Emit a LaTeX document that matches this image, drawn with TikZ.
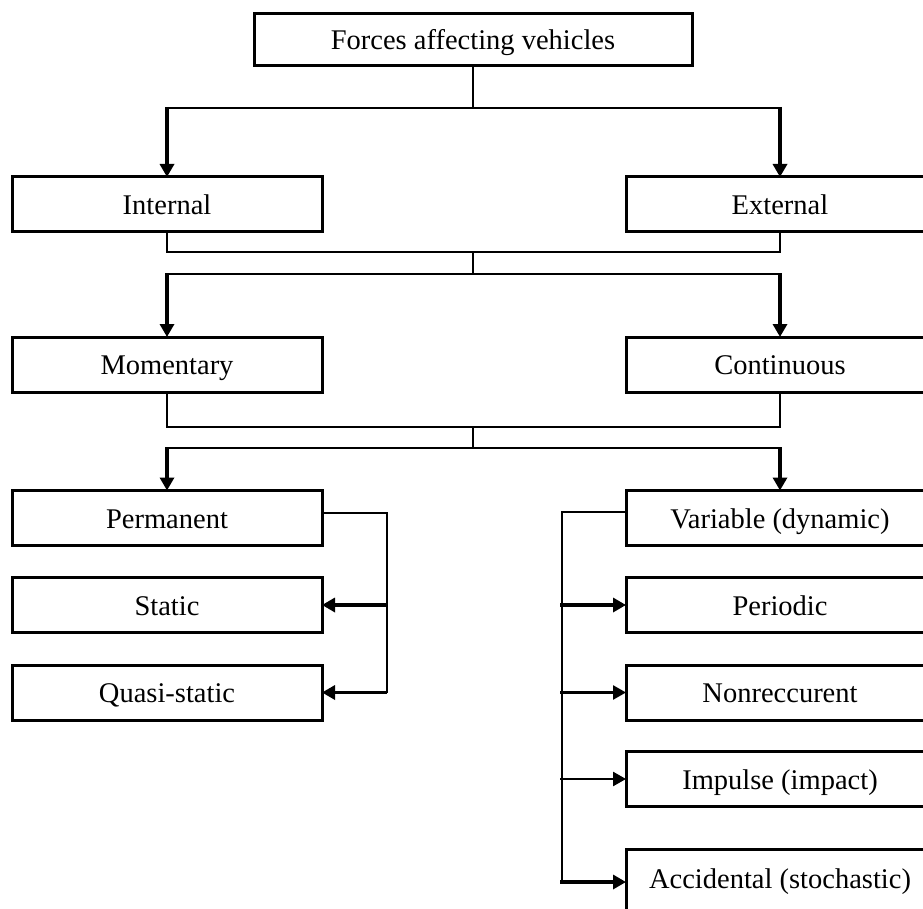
\documentclass[tikz,border=0pt]{standalone}
\usepackage{fontspec}
\setmainfont{Liberation Serif}
\usetikzlibrary{arrows.meta}
\begin{document}
\begin{tikzpicture}[x=1pt,y=-1pt,
  box/.style={draw, line width=3pt, minimum width=310pt, minimum height=55pt, inner sep=0pt, outer sep=0pt,
              text height=26pt, text depth=6pt, font=\fontsize{28.5}{32}\selectfont},
  rbox/.style={box, minimum width=308pt},
  thinline/.style={line width=1.1pt},
  thickarrow/.style={line width=3.8pt, -{Triangle[length=13pt,width=14pt]}},
  midarrow/.style={line width=2.6pt, -{Triangle[length=13pt,width=14pt]}}
]
\useasboundingbox (0,0) rectangle (923,909);
\clip (0,0) rectangle (923,909);
\fill[white] (0,0) rectangle (923,909);
% nodes
\node[box, minimum width=438pt, minimum height=52pt] (top) at (473,40) {Forces affecting vehicles};
\node[box] (int) at (167,204.5) {Internal};
\node[rbox] (ext) at (780,204.5) {External};
\node[box] (mom) at (167,364.5) {Momentary};
\node[rbox] (cont) at (780,364.5) {Continuous};
\node[box] (perm) at (167,518) {Permanent};
\node[rbox] (var) at (780,518) {Variable (dynamic)};
\node[box] (stat) at (167,605) {Static};
\node[box] (qs) at (167,692.5) {Quasi-static};
\node[rbox] (per) at (780,605) {Periodic};
\node[rbox] (non) at (780,692.5) {Nonreccurent};
\node[rbox] (imp) at (780,779) {Impulse (impact)};
\node[rbox, minimum height=70pt, text depth=18pt] (acc) at (780,884) {Accidental (stochastic)};
% level coordinates
\coordinate (y1) at (0,108);
\coordinate (y2) at (0,252);
\coordinate (y3) at (0,274);
\coordinate (y4) at (0,427);
\coordinate (y5) at (0,448);
\coordinate (pb) at (387,0);
\coordinate (vb) at (562,0);
\coordinate (pe) at ([yshift=5pt]perm.east);
\coordinate (ve) at ([yshift=6pt]var.west);
\coordinate (ae) at ([yshift=2pt]acc.west);
% first level
\draw[thinline] (top.south) -- (top.south |- y1);
\draw[thinline] (int.north |- y1) -- (ext.north |- y1);
\draw[thickarrow] ([yshift=1pt]int.north |- y1) -- (int.north);
\draw[thickarrow] ([yshift=1pt]ext.north |- y1) -- (ext.north);
% second level
\draw[thinline] (int.south) -- (int.south |- y2) -- (ext.south |- y2) -- (ext.south);
\draw[thinline] (top.south |- y2) -- (top.south |- y3);
\draw[thinline] (int.north |- y3) -- (ext.north |- y3);
\draw[thickarrow] ([yshift=1pt]mom.north |- y3) -- (mom.north);
\draw[thickarrow] ([yshift=1pt]cont.north |- y3) -- (cont.north);
% third level
\draw[thinline] (mom.south) -- (mom.south |- y4) -- (cont.south |- y4) -- (cont.south);
\draw[thinline] (top.south |- y4) -- (top.south |- y5);
\draw[thinline] (perm.north |- y5) -- (var.north |- y5);
\draw[thickarrow] ([yshift=1pt]perm.north |- y5) -- (perm.north);
\draw[thickarrow] ([yshift=1pt]var.north |- y5) -- (var.north);
% permanent bracket
\draw[thinline] (pe) -- (pe -| pb) -- (qs.east -| pb);
\draw[thickarrow] (stat.east -| pb) -- (stat.east);
\draw[thickarrow] (qs.east -| pb) -- (qs.east);
% variable bracket
\draw[thinline] (ve) -- (ve -| vb) -- (ae -| vb);
\draw[thickarrow] ([xshift=-2pt]per.west -| vb) -- (per.west);
\draw[midarrow] ([xshift=-2pt]non.west -| vb) -- (non.west);
\draw[midarrow] ([xshift=-2pt]imp.west -| vb) -- (imp.west);
\draw[thickarrow] ([xshift=-2pt]ae -| vb) -- (ae);
\end{tikzpicture}
\end{document}
